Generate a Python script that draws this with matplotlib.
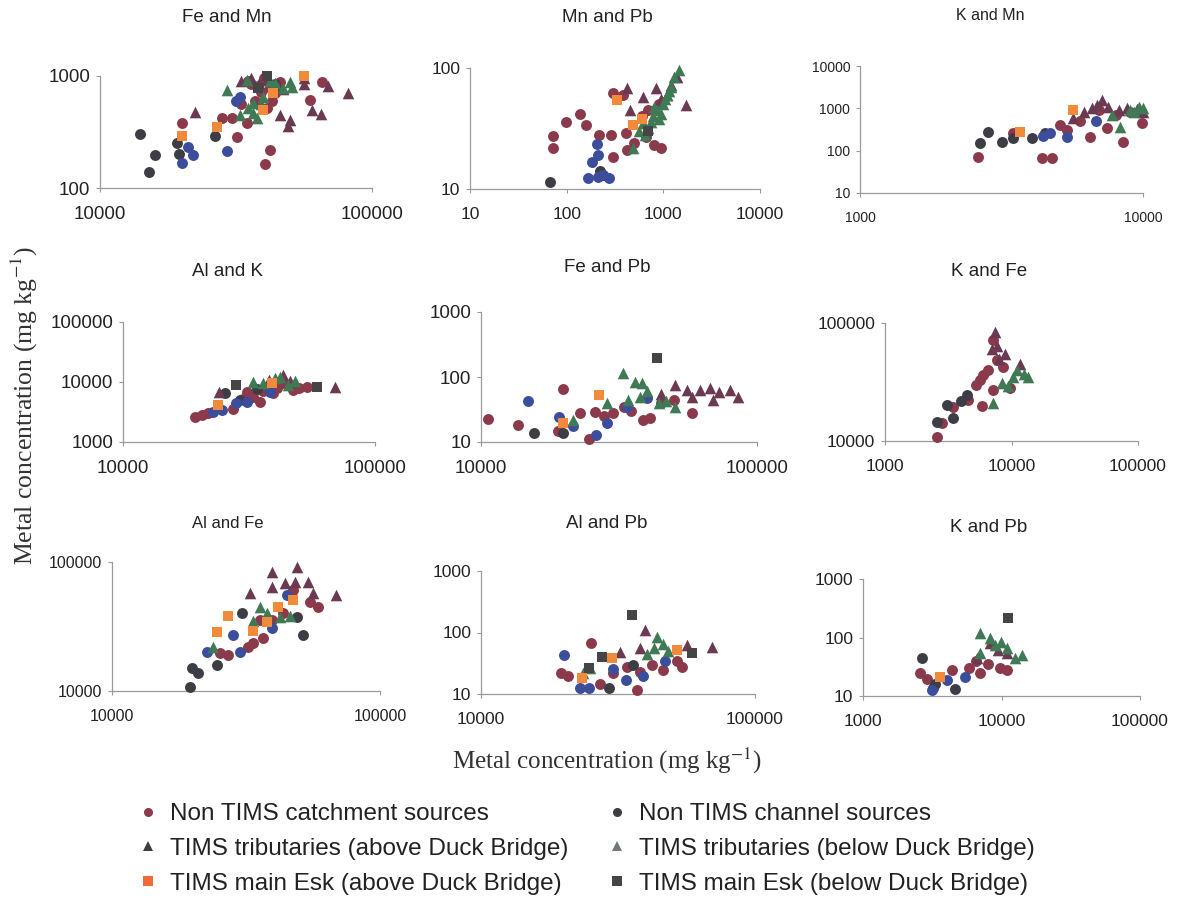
import matplotlib
matplotlib.use("Agg")
import matplotlib.pyplot as plt
from matplotlib.lines import Line2D

plt.rcParams['font.family'] = ['Liberation Sans', 'DejaVu Sans']
plt.rcParams['mathtext.fontset'] = 'stix'

# ---- data (mg/kg) ----
# Fe and Mn
fe_mn_catch_x = [20000, 28100, 30600, 31900, 34700, 40500, 42100, 59000, 65500, 35000, 38000, 40000,
                 42000, 44000, 37000, 46000, 39000, 36000, 43000, 33000, 41000]
fe_mn_catch_y = [380, 420, 420, 285, 380, 164, 218, 610, 885, 900, 820, 950, 780, 700, 600, 880, 720,
                 850, 600, 560, 520]
fe_mn_chan_x = [14000, 15900, 15150, 19200, 19500, 26500, 44000]
fe_mn_chan_y = [303, 197, 139, 252, 200, 291, 850]
fe_mn_blue_x = [20000, 21000, 22000, 29300, 32700, 31500]
fe_mn_blue_y = [167, 232, 197, 214, 650, 600]
fe_mn_tra_x = [22300, 45900, 49900, 49000, 60000, 65000, 69000, 81500, 56000, 56000, 33000, 36000,
               38500, 41000, 45000, 47000]
fe_mn_tra_y = [478, 450, 405, 358, 500, 457, 812, 705, 960, 840, 900, 950, 870, 920, 820, 760]
fe_mn_trb_x = [29300, 32700, 36600, 37700, 50000, 51000, 34700, 39700, 36600, 42000, 44000, 39000,
               35000, 47000]
fe_mn_trb_y = [750, 450, 468, 420, 880, 800, 920, 650, 570, 900, 860, 560, 520, 780]
fe_mn_eska_x = [20000, 27000, 39700, 43200, 56000]
fe_mn_eska_y = [290, 350, 500, 700, 1000]
fe_mn_eskb_x = [41000, 38000]
fe_mn_eskb_y = [1000, 780]

# Mn and Pb
mn_pb_catch_x = [72, 73, 98, 139, 160, 218, 290, 300, 415, 425, 665, 800, 950, 500, 300, 380, 600, 700, 900]
mn_pb_catch_y = [27.4, 22, 35.7, 41.7, 34, 28, 28, 18.4, 29, 21, 27, 23, 22, 24, 62, 60, 40, 45, 50]
mn_pb_chan_x = [68, 220, 240]
mn_pb_chan_y = [11.4, 14, 13]
mn_pb_blue_x = [205, 210, 185, 165, 210, 277, 240]
mn_pb_blue_y = [23.6, 19, 16.7, 12.3, 12.6, 12.3, 13]
mn_pb_tra_x = [425, 450, 610, 840, 1720, 1400, 1100, 950, 1200]
mn_pb_tra_y = [68, 45, 58, 68, 49, 84, 60, 55, 72]
mn_pb_trb_x = [480, 560, 620, 700, 780, 850, 900, 1000, 1100, 1200, 1300, 1450, 650, 750, 950, 1050, 800, 1150]
mn_pb_trb_y = [22, 30, 35, 32, 40, 45, 38, 50, 60, 70, 85, 96, 28, 36, 42, 55, 48, 65]
mn_pb_eska_x = [330, 480, 600]
mn_pb_eska_y = [54, 34, 38]
mn_pb_eskb_x = [700]
mn_pb_eskb_y = [30]

# K and Mn
k_mn_catch_x = [2610, 4400, 4770, 3470, 5100, 6500, 8500, 9900, 7450, 5400, 6000, 8000, 9000, 7000]
k_mn_catch_y = [71, 68, 68, 262, 405, 210, 160, 450, 340, 310, 500, 700, 800, 900]
k_mn_chan_x = [2650, 2830, 3180, 3470, 4050, 4500]
k_mn_chan_y = [150, 280, 160, 200, 200, 260]
k_mn_blue_x = [4430, 4700, 5400, 6800]
k_mn_blue_y = [220, 260, 215, 500]
k_mn_tra_x = [5650, 7150, 6200, 6600, 7500, 8200, 8800, 9500, 10000, 6900]
k_mn_tra_y = [590, 1580, 800, 1000, 1100, 900, 1000, 950, 800, 1200]
k_mn_trb_x = [10000, 8300, 9000, 9700, 7800, 9300]
k_mn_trb_y = [1000, 360, 900, 1050, 700, 800]
k_mn_eska_x = [3680, 5650]
k_mn_eska_y = [275, 900]
k_mn_eskb_x = []
k_mn_eskb_y = []

# Al and K
al_k_catch_x = [19300, 20600, 21700, 27300, 32800, 39400, 47300, 53600, 37300, 31000, 43200, 35000,
                41000, 45000, 50000, 30000, 36000]
al_k_catch_y = [2610, 2800, 3040, 3550, 5600, 6500, 7350, 8300, 8300, 6800, 9600, 4700, 8000, 9000,
                7800, 5200, 7000]
al_k_chan_x = [25400, 29000, 34000]
al_k_chan_y = [6500, 5000, 7500]
al_k_blue_x = [22700, 24700, 31000, 38300, 28000]
al_k_blue_y = [3200, 3400, 4700, 6800, 4400]
al_k_tra_x = [24000, 69300, 43000, 38000, 46000]
al_k_tra_y = [6800, 8300, 13000, 11000, 10500]
al_k_trb_x = [32800, 45000, 40000, 36000, 48000, 42000]
al_k_trb_y = [10000, 9000, 11500, 9500, 10500, 12000]
al_k_eska_x = [23800, 39000]
al_k_eska_y = [4100, 9500]
al_k_eskb_x = [28100, 58800]
al_k_eskb_y = [8900, 8300]

# Fe and Pb
fe_pb_catch_x = [10600, 13600, 19800, 19000, 22800, 24600, 25900, 30100, 38600, 58000, 41000, 35000,
                 45000, 50000, 33000, 28000]
fe_pb_catch_y = [22.6, 18.3, 65, 14.8, 28, 11, 29, 28, 22, 28, 23, 30, 40, 45, 35, 25]
fe_pb_chan_x = [15600, 19800]
fe_pb_chan_y = [13.7, 13.7]
fe_pb_blue_x = [14800, 19200, 21500, 26100, 28600, 33800, 40000]
fe_pb_blue_y = [43, 24, 17.6, 12.8, 19.6, 35, 48]
fe_pb_tra_x = [50400, 62000, 67600, 80000, 85000, 69000, 55600, 45000, 58000, 73000]
fe_pb_tra_y = [75, 63, 67, 63, 49, 44, 63, 55, 50, 58]
fe_pb_trb_x = [28600, 32700, 36100, 38300, 37700, 50400, 44000, 21500, 34000, 40000, 47000]
fe_pb_trb_y = [39.8, 115, 84, 80, 49, 35, 40, 22, 45, 60, 42]
fe_pb_eska_x = [26800, 19800]
fe_pb_eska_y = [53, 19.6]
fe_pb_eskb_x = [43500]
fe_pb_eskb_y = [195]

# K and Fe
k_fe_catch_x = [2580, 2820, 3450, 5850, 9700, 4530, 5650, 7150, 7700, 6500, 7150, 6000, 8500, 5200]
k_fe_catch_y = [10800, 14200, 19400, 19800, 28100, 22300, 33000, 72000, 48500, 40000, 27000, 36000,
                42000, 30000]
k_fe_chan_x = [2580, 3450, 4450, 3100, 4000]
k_fe_chan_y = [14500, 15700, 24500, 20200, 22000]
k_fe_blue_x = []
k_fe_blue_y = []
k_fe_tra_x = [7400, 7700, 11700, 8900, 7000, 8000]
k_fe_tra_y = [84000, 64000, 45000, 55000, 60000, 50000]
k_fe_trb_x = [7150, 10300, 13500, 12500, 8400, 9400, 11000]
k_fe_trb_y = [21000, 35000, 35000, 37000, 31000, 29000, 40000]
k_fe_eska_x = []
k_fe_eska_y = []
k_fe_eskb_x = []
k_fe_eskb_y = []

# Al and Fe
al_fe_catch_x = [25300, 27100, 32200, 33600, 36600, 39700, 43400, 54700, 58700, 47300, 35600]
al_fe_catch_y = [19700, 19000, 22000, 23500, 25800, 35500, 40300, 49000, 44700, 60500, 35500]
al_fe_chan_x = [19500, 19900, 20900, 24600, 51700, 48900, 30600]
al_fe_chan_y = [10700, 15100, 13800, 15900, 27200, 37500, 40300]
al_fe_blue_x = [22600, 28300, 30000, 39500, 45000]
al_fe_blue_y = [20000, 27000, 20000, 30800, 55500]
al_fe_tra_x = [39700, 48900, 32700, 44200, 53900, 68500, 39700, 48000, 56000]
al_fe_tra_y = [83500, 91500, 57500, 68700, 70000, 55500, 64000, 70000, 57000]
al_fe_trb_x = [23800, 35600, 38000, 42200, 33500, 46000]
al_fe_trb_y = [22000, 44700, 40000, 37500, 35000, 38000]
al_fe_eska_x = [24600, 27000, 37800, 41600, 47300, 33500]
al_fe_eska_y = [28700, 38000, 34000, 44700, 50800, 29000]
al_fe_eskb_x = []
al_fe_eskb_y = []

# Al and Pb
al_pb_catch_x = [19600, 20800, 25200, 27200, 30300, 34100, 37000, 38100, 46100, 54000, 52000, 42000]
al_pb_catch_y = [21.9, 19.4, 67, 14.5, 21.9, 27.5, 11.6, 22.7, 24.6, 27.5, 35, 30]
al_pb_chan_x = [29300, 36000]
al_pb_chan_y = [12.5, 30]
al_pb_blue_x = [20100, 23000, 24800, 33800, 30300, 39000, 47000]
al_pb_blue_y = [43, 12.5, 12.5, 16.9, 25.5, 19.4, 34]
al_pb_tra_x = [39700, 32100, 56500, 69500, 38000]
al_pb_tra_y = [110, 48, 63, 58, 55]
al_pb_trb_x = [43800, 42800, 46000, 40500, 48000, 23600, 25000]
al_pb_trb_y = [85, 57, 65, 45, 50, 21.9, 26]
al_pb_eska_x = [23300, 52000, 30000]
al_pb_eska_y = [18.5, 52, 38]
al_pb_eskb_x = [35500, 27600, 24800, 59000]
al_pb_eskb_y = [193, 40, 26, 46.6]

# K and Pb
k_pb_catch_x = [2580, 2900, 4390, 7000, 10900, 9800, 5800, 6500, 8000]
k_pb_catch_y = [24.7, 19.5, 27.8, 24.7, 27.8, 30, 30, 40, 35]
k_pb_chan_x = [2670, 3200, 4620, 3300]
k_pb_chan_y = [44.6, 13.7, 13.1, 16]
k_pb_blue_x = [3150, 4040, 5440]
k_pb_blue_y = [12.7, 18.9, 21]
k_pb_tra_x = [8300, 6700, 11000, 9500]
k_pb_tra_y = [80, 45, 55, 60]
k_pb_trb_x = [7000, 8300, 9900, 11000, 14000, 9000, 7000, 12500]
k_pb_trb_y = [119, 100, 85, 65, 50, 75, 55, 45]
k_pb_eska_x = [3600]
k_pb_eska_y = [21]
k_pb_eskb_x = [11100]
k_pb_eskb_y = [215]

titles = ['Fe and Mn', 'Mn and Pb', 'K and Mn', 'Al and K', 'Fe and Pb', 'K and Fe',
          'Al and Fe', 'Al and Pb', 'K and Pb']
x_ticks = [[1e4, 1e5], [10, 100, 1000, 10000], [1000, 10000], [1e4, 1e5], [1e4, 1e5],
           [1000, 10000, 100000], [1e4, 1e5], [1e4, 1e5], [1000, 10000, 100000]]
y_ticks = [[100, 1000], [10, 100], [10, 100, 1000, 10000], [1000, 10000, 100000], [10, 100, 1000],
           [10000, 100000], [10000, 100000], [10, 100, 1000], [10, 100, 1000]]

legend_col1 = ['Non TIMS catchment sources', 'TIMS tributaries (above Duck Bridge)',
               'TIMS main Esk (above Duck Bridge)']
legend_col2 = ['Non TIMS channel sources', 'TIMS tributaries (below Duck Bridge)',
               'TIMS main Esk (below Duck Bridge)']

# ---- styles / layout ----
W, H = 1180, 899
styles = {
    'catch': ('#8B3A4B', 'o', 62),
    'chan': ('#3D3D45', 'o', 62),
    'blue': ('#3B4D9B', 'o', 62),
    'tra': ('#6B3A52', '^', 70),
    'trb': ('#3F7A55', '^', 70),
    'eska': ('#F28A3C', 's', 46),
    'eskb': ('#454545', 's', 46),
}
order = ['catch', 'chan', 'blue', 'tra', 'trb', 'eska', 'eskb']
prefixes = ['fe_mn', 'mn_pb', 'k_mn', 'al_k', 'fe_pb', 'k_fe', 'al_fe', 'al_pb', 'k_pb']

# axes boxes in pixels (x0, y0, x1, y1), title centre, tick/title font sizes
boxes = [(100, 76, 372, 188), (470, 68, 760, 189), (860, 66, 1143, 193),
         (123, 322, 375, 442), (481, 312, 757, 442), (885, 323, 1138, 441),
         (112, 562, 380, 691), (481, 571, 755, 694), (863, 579, 1140, 696)]
title_pos = [(227, 18), (607, 18), (990, 15), (227, 272), (607, 267), (989, 272),
             (228, 523), (607, 523), (989, 527)]
tick_fs = [13.5, 12.5, 10, 13.5, 13.5, 12.5, 11.5, 12.5, 12.5]
title_fs = [13.5, 13.5, 11.5, 13.5, 13.5, 13.5, 12, 13.5, 13.5]

fig = plt.figure(figsize=(W / 100, H / 100), dpi=100)
g = globals()

for i, pre in enumerate(prefixes):
    x0, y0, x1, y1 = boxes[i]
    ax = fig.add_axes([x0 / W, 1 - y1 / H, (x1 - x0) / W, (y1 - y0) / H])
    for key in order:
        xs = g[pre + '_' + key + '_x']
        ys = g[pre + '_' + key + '_y']
        if len(xs) == 0:
            continue
        c, m, s = styles[key]
        ax.scatter(xs, ys, s=s, c=c, marker=m, linewidths=0, zorder=3, clip_on=False)
    ax.set_xscale('log')
    ax.set_yscale('log')
    ax.set_xlim(x_ticks[i][0], x_ticks[i][-1])
    ax.set_ylim(y_ticks[i][0], y_ticks[i][-1])
    ax.set_xticks(x_ticks[i], [str(int(v)) for v in x_ticks[i]])
    ax.set_yticks(y_ticks[i], [str(int(v)) for v in y_ticks[i]])
    ax.minorticks_off()
    for sp in ['top', 'right']:
        ax.spines[sp].set_visible(False)
    for sp in ['left', 'bottom']:
        ax.spines[sp].set_color('#9a9a9a')
        ax.spines[sp].set_linewidth(0.9)
    ax.tick_params(axis='x', length=3, color='#9a9a9a', pad=10, labelsize=tick_fs[i], labelcolor='#222')
    ax.tick_params(axis='y', length=3, color='#9a9a9a', pad=4, labelsize=tick_fs[i], labelcolor='#222')
    ax.set_facecolor('none')
    tx, ty = title_pos[i]
    fig.text(tx / W, 1 - ty / H, titles[i], ha='center', va='center', fontsize=title_fs[i], color='#222')

fig.text(24 / W, 1 - 405 / H, 'Metal concentration (mg kg$^{-1}$)', rotation=90,
         ha='center', va='center', fontsize=18.5, family='Liberation Serif', color='#333')
fig.text(607 / W, 1 - 761 / H, 'Metal concentration (mg kg$^{-1}$)',
         ha='center', va='center', fontsize=18, family='Liberation Serif', color='#333')

leg_colors = {'catch': '#8B3A4B', 'chan': '#3D3D45', 'tra': '#3D3D45', 'trb': '#6F7A70',
              'eska': '#F06A3A', 'eskb': '#454545'}


def legend_column(keys, labels, left_px):
    handles = [Line2D([], [], linestyle='none', marker=styles[k][1], color=leg_colors[k],
                      markersize=6.5, markeredgewidth=0) for k in keys]
    leg = fig.legend(handles, labels, loc='upper left', bbox_to_anchor=(left_px / W, 1 - 803 / H),
                     frameon=False, fontsize=17.5, handlelength=1.0, handletextpad=0.4,
                     labelspacing=0.53, borderpad=0, borderaxespad=0)
    for t in leg.get_texts():
        t.set_color('#222')
    return leg


legend_column(['catch', 'tra', 'eska'], legend_col1, 136)
legend_column(['chan', 'trb', 'eskb'], legend_col2, 605)

fig.savefig('out.png', dpi=100, facecolor='white')
